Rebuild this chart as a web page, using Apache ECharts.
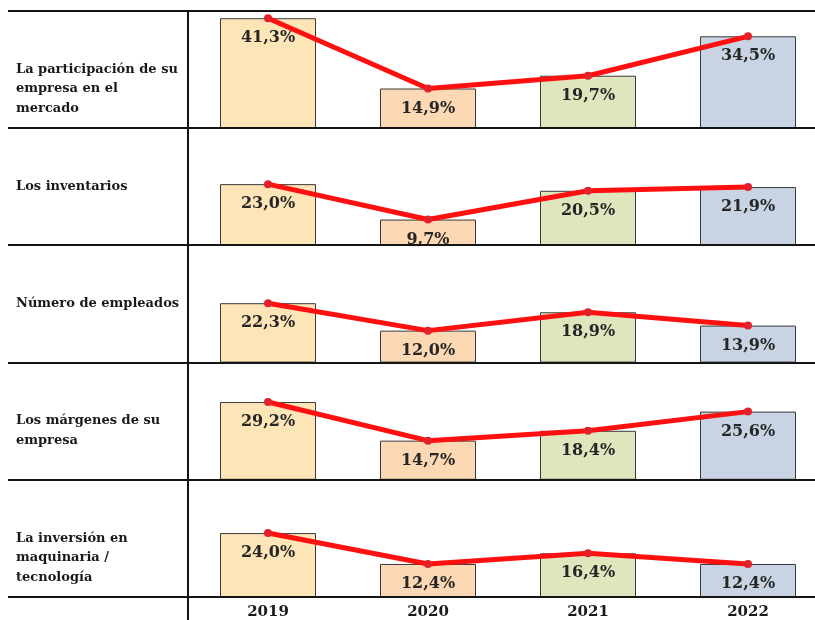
<!DOCTYPE html>
<html lang="es">
<head>
  <meta charset="UTF-8">
  <title>Chart</title>
  <script src="https://cdn.jsdelivr.net/npm/echarts@6/dist/echarts.min.js"></script>
  <style>
    html, body { margin: 0; padding: 0; background: #fff; }
    #chart { width: 815px; height: 620px; }
  </style>
</head>
<body>
<div id="chart"></div>
<script>
  // datos
  const years = ['2019', '2020', '2021', '2022']
  const rowLabels = [
    'La participación de su\nempresa en el\nmercado',
    'Los inventarios',
    'Número de empleados',
    'Los márgenes de su\nempresa',
    'La inversión en\nmaquinaria /\ntecnología'
  ]
  const participacion = [41.3, 14.9, 19.7, 34.5]
  const inventarios = [23.0, 9.7, 20.5, 21.9]
  const empleados = [22.3, 12.0, 18.9, 13.9]
  const margenes = [29.2, 14.7, 18.4, 25.6]
  const inversion = [24.0, 12.4, 16.4, 12.4]
  const rows = [participacion, inventarios, empleados, margenes, inversion]

  const barColors = ['#fde5b7', '#fcd9b4', '#dfe6bd', '#c8d4e3']
  const serif = '"DejaVu Serif", "Liberation Serif", serif'

  const top0 = 11
  const rowH = 117.2
  const leftX = 188

  let myChart = echarts.init(document.getElementById('chart'))

  let grids = [], xAxes = [], yAxes = [], series = [], graphics = []

  rows.forEach((vals, i) => {
    let last = i === rows.length - 1
    // la tabla sigue a la derecha del lienzo: no limitar la rejilla
    grids.push({left: leftX, width: 640, top: top0 + i * rowH, height: rowH, outerBoundsMode: 'none'})
    xAxes.push({
      type: 'category', gridIndex: i, data: years,
      axisLine: {show: false}, axisTick: {show: false},
      axisLabel: {
        show: last, margin: 8, color: '#1a1a1a',
        fontFamily: serif, fontWeight: 'bold', fontSize: 15
      }
    })
    yAxes.push({type: 'value', gridIndex: i, min: 0, max: 44, show: false, splitLine: {show: false}})
    series.push({
      type: 'bar', xAxisIndex: i, yAxisIndex: i,
      data: vals, barWidth: '60%',
      itemStyle: {
        color: p => barColors[p.dataIndex],
        borderColor: '#3a3a3a', borderWidth: 1
      },
      label: {
        show: true, position: 'insideTop', distance: 12,
        fontFamily: serif, fontWeight: 'bold', fontSize: 16, color: '#262626',
        formatter: p => p.value.toFixed(1).replace('.', ',') + '%'
      },
      silent: true
    })
    series.push({
      type: 'line', xAxisIndex: i, yAxisIndex: i,
      data: vals, z: 5,
      lineStyle: {color: '#ff1010', width: 5},
      symbol: 'circle', symbolSize: 8,
      itemStyle: {color: '#e3212b'},
      silent: true
    })
    // etiqueta de fila (primera línea centrada en la fila)
    graphics.push({
      type: 'text', left: 16, top: top0 + i * rowH + rowH / 2 - 10,
      style: {
        text: rowLabels[i], fill: '#1a1a1a',
        font: 'bold 13px ' + serif, lineHeight: 19.5
      }
    })
  })

  // líneas de la tabla
  for (let k = 0; k <= rows.length; k++) {
    let y = Math.round(top0 + k * rowH)
    graphics.push({
      type: 'line', shape: {x1: 8, y1: y, x2: 815, y2: y},
      style: {stroke: '#141414', lineWidth: 2}, z: 10
    })
  }
  graphics.push({
    type: 'line', shape: {x1: leftX, y1: top0, x2: leftX, y2: 620},
    style: {stroke: '#141414', lineWidth: 2}, z: 10
  })

  let option = {
    animation: false,
    grid: grids,
    xAxis: xAxes,
    yAxis: yAxes,
    series: series,
    graphic: graphics
  }
  myChart.setOption(option)
</script>
</body>
</html>
